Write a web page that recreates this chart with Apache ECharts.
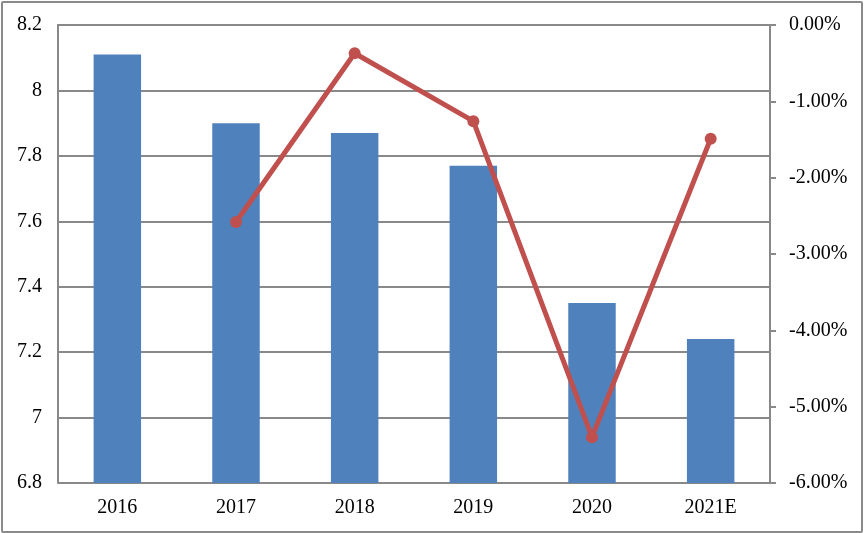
<!DOCTYPE html>
<html><head><meta charset="utf-8">
<script src="https://cdn.jsdelivr.net/npm/echarts@6/dist/echarts.min.js"></script>
<style>html,body{margin:0;padding:0;background:#fff}#wrap{position:absolute;left:1px;top:1px;width:858px;height:528px;border:2px solid #8a8a8a;border-radius:2px}#c{width:864px;height:533px;position:absolute;left:0;top:0}</style>
</head><body>
<div id="wrap"></div>
<div id="c"></div>
<script>
var categories = ['2016','2017','2018','2019','2020','2021E'];
var barValues = [8.11, 7.90, 7.87, 7.77, 7.35, 7.24];
var lineValues = [null, -2.58, -0.37, -1.26, -5.40, -1.49];
var leftTicks = {min: 6.8, max: 8.2, interval: 0.2};
var rightTicks = {min: -6, max: 0, interval: 1};

var chart = echarts.init(document.getElementById('c'));
var axisColor = '#898989';
var font = {fontFamily: '"Liberation Serif", "Times New Roman", serif', fontSize: 20, color: '#000'};
chart.setOption({
  animation: false,
  grid: {left: 58, right: 94, top: 25, bottom: 50},
  xAxis: {
    type: 'category', data: categories,
    axisLine: {lineStyle: {color: axisColor, width: 2}},
    axisTick: {show: false},
    axisLabel: Object.assign({margin: 15}, font)
  },
  yAxis: [{
    type: 'value', min: leftTicks.min, max: leftTicks.max, interval: leftTicks.interval,
    axisLine: {show: true, lineStyle: {color: axisColor, width: 2}},
    axisTick: {show: false},
    splitLine: {lineStyle: {color: axisColor, width: 2}},
    axisLabel: Object.assign({margin: 16, formatter: function(v){ return String(parseFloat(v.toFixed(1))); }}, font)
  },{
    type: 'value', min: rightTicks.min, max: rightTicks.max, interval: rightTicks.interval,
    position: 'right',
    axisLine: {show: true, lineStyle: {color: axisColor, width: 2}},
    axisTick: {show: true, length: 6, lineStyle: {color: axisColor, width: 2}},
    splitLine: {show: false},
    axisLabel: Object.assign({margin: 19, formatter: function(v){ return v.toFixed(2) + '%'; }}, font)
  }],
  series: [{
    type: 'bar', data: barValues, yAxisIndex: 0, barWidth: '40%',
    itemStyle: {color: '#4F81BD'}
  },{
    type: 'line', data: lineValues, yAxisIndex: 1,
    symbol: 'circle', symbolSize: 12,
    lineStyle: {color: '#C0504D', width: 5},
    itemStyle: {color: '#C0504D'}
  }]
});
</script>
</body></html>
